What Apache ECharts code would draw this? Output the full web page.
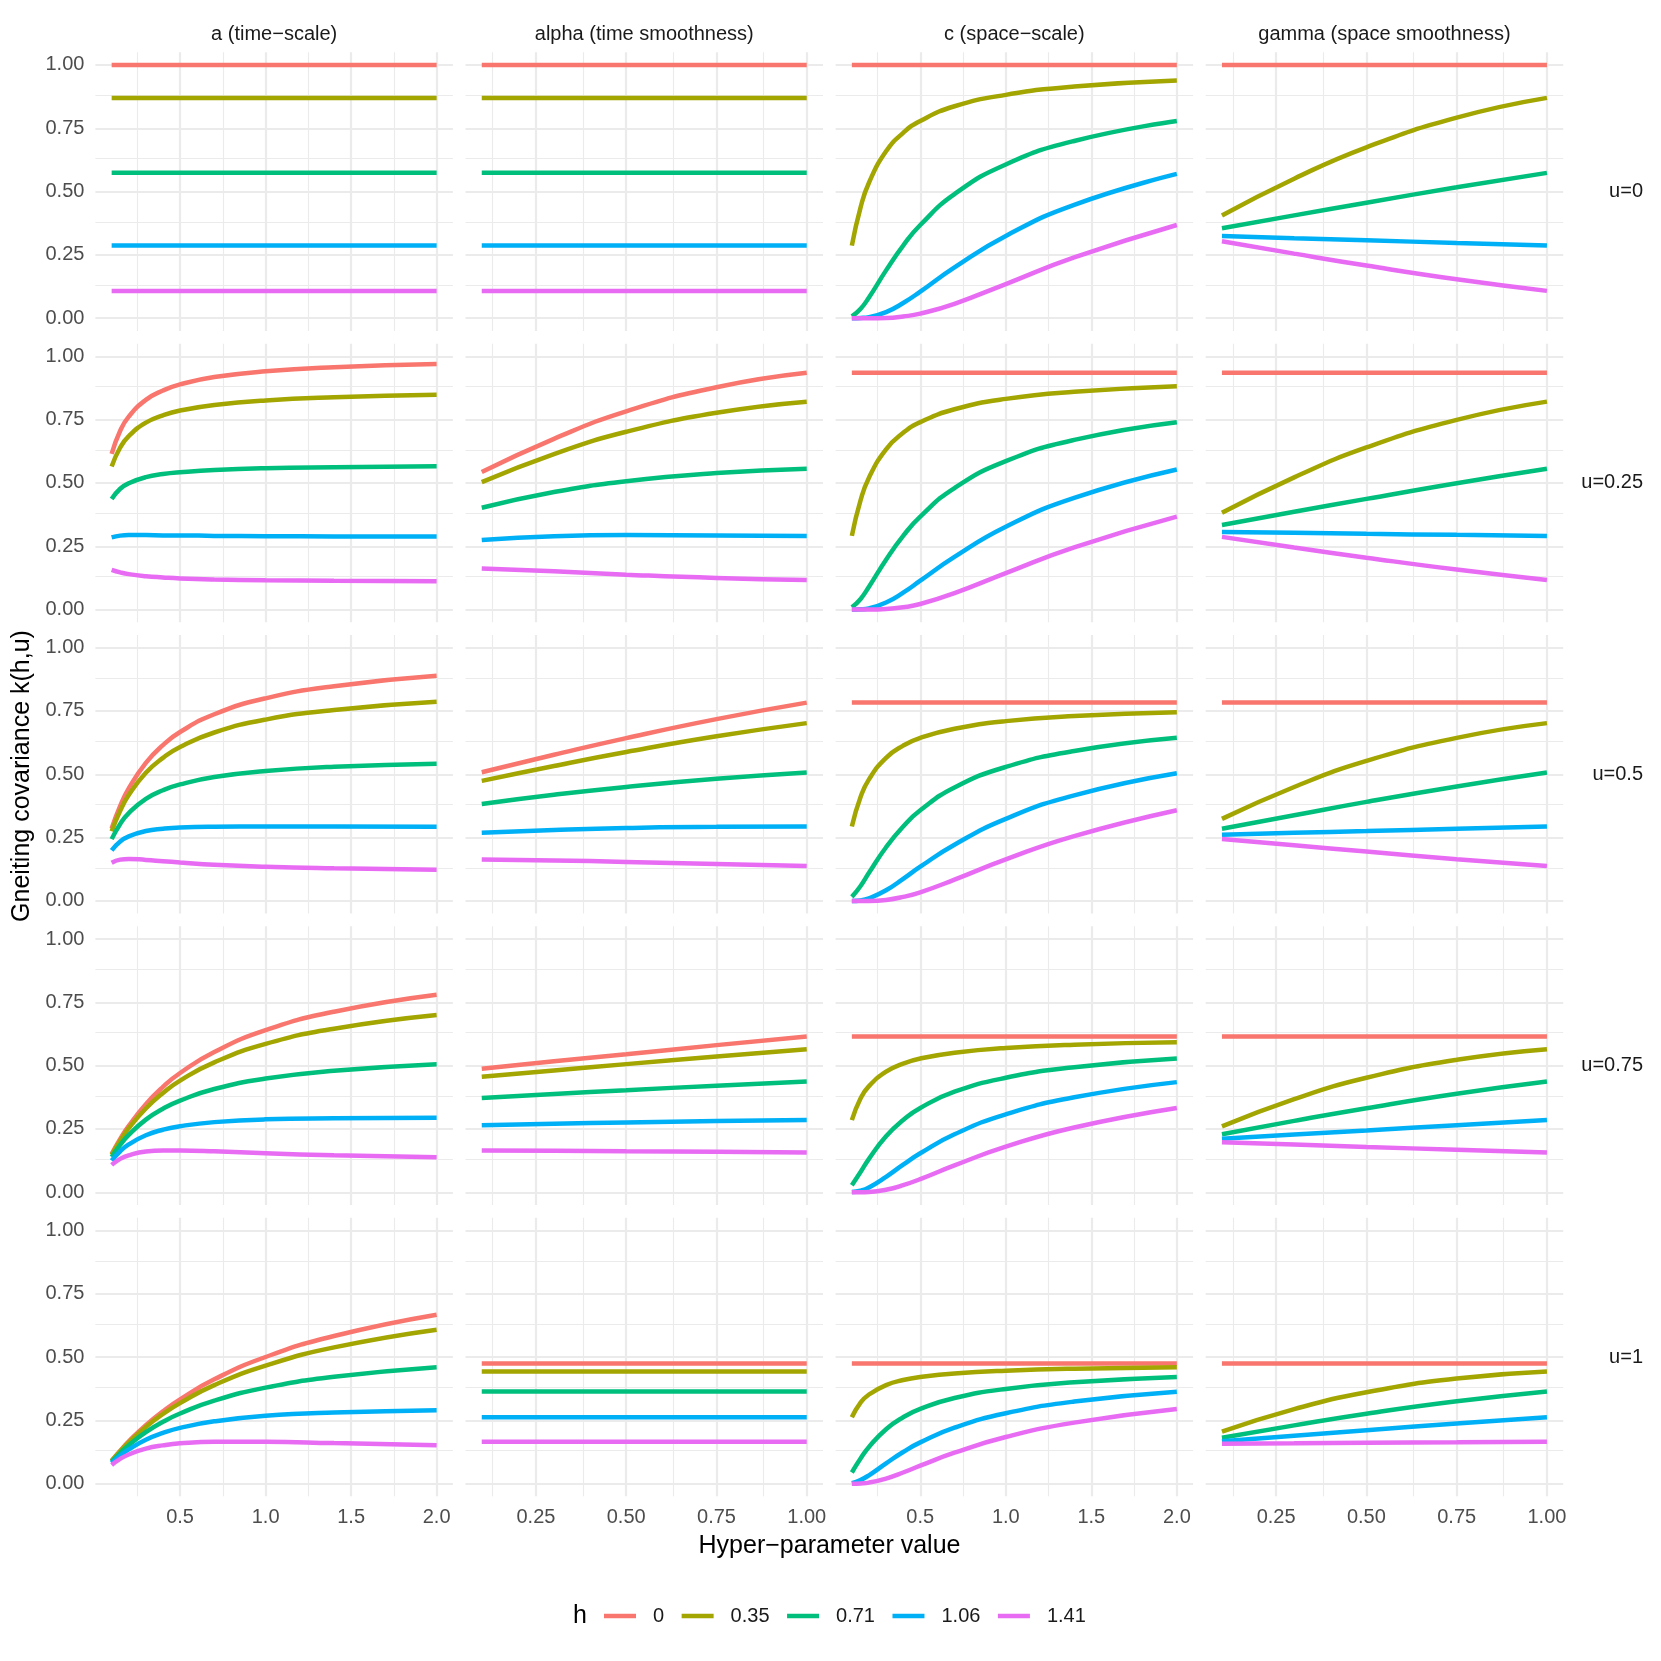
<!DOCTYPE html>
<html>
<head>
<meta charset="utf-8">
<title>Gneiting covariance</title>
<script src="https://cdn.jsdelivr.net/npm/echarts@6/dist/echarts.min.js"></script>
<style>
  html, body { margin: 0; background: #fff; }
  #chart { width: 1661px; height: 1661px; }
</style>
</head>
<body>
<div id="chart"></div>
<script>
  // legend levels and facet strips
  const hLevels = ['0', '0.35', '0.71', '1.06', '1.41']
  const colLabels = ['a (time\u2212scale)', 'alpha (time smoothness)', 'c (space\u2212scale)', 'gamma (space smoothness)']
  const rowLabels = ['u=0', 'u=0.25', 'u=0.5', 'u=0.75', 'u=1']

  // x positions the curves were read at
  const scaleX = [0.1, 0.15, 0.2, 0.3, 0.4, 0.5, 0.7, 1.0, 1.4, 2.0] // a, c
  const smoothX = [0.1, 0.3, 0.5, 0.75, 1.0] // alpha, gamma

  // tick labels
  const scaleTicks = [0.5, 1.0, 1.5, 2.0]
  const smoothTicks = [0.25, 0.5, 0.75, 1.0]
  const yTicks = [0, 0.25, 0.5, 0.75, 1.0]

  // readings per panel, one row per h level
  const aU0 = [
    [1, 1, 1, 1, 1, 1, 1, 1, 1, 1],
    [0.87, 0.87, 0.87, 0.87, 0.87, 0.87, 0.87, 0.87, 0.87, 0.87],
    [0.574, 0.574, 0.574, 0.574, 0.574, 0.574, 0.574, 0.574, 0.574, 0.574],
    [0.287, 0.287, 0.287, 0.287, 0.287, 0.287, 0.287, 0.287, 0.287, 0.287],
    [0.108, 0.108, 0.108, 0.108, 0.108, 0.108, 0.108, 0.108, 0.108, 0.108]
  ]
  const aU025 = [
    [0.615, 0.706, 0.762, 0.828, 0.865, 0.889, 0.918, 0.941, 0.957, 0.970],
    [0.565, 0.640, 0.685, 0.738, 0.767, 0.786, 0.808, 0.826, 0.838, 0.848],
    [0.437, 0.477, 0.499, 0.523, 0.535, 0.542, 0.551, 0.558, 0.562, 0.566],
    [0.285, 0.292, 0.294, 0.294, 0.293, 0.293, 0.291, 0.290, 0.289, 0.289],
    [0.157, 0.147, 0.140, 0.132, 0.127, 0.123, 0.119, 0.116, 0.114, 0.112]
  ]
  const aU05 = [
    [0.286, 0.375, 0.444, 0.545, 0.615, 0.667, 0.737, 0.800, 0.848, 0.889],
    [0.275, 0.356, 0.418, 0.506, 0.565, 0.608, 0.665, 0.716, 0.754, 0.786],
    [0.244, 0.304, 0.347, 0.403, 0.437, 0.460, 0.489, 0.513, 0.530, 0.542],
    [0.200, 0.235, 0.255, 0.276, 0.285, 0.290, 0.293, 0.294, 0.294, 0.293],
    [0.151, 0.163, 0.166, 0.162, 0.157, 0.152, 0.143, 0.135, 0.129, 0.123]
  ]
  const aU075 = [
    [0.151, 0.211, 0.262, 0.348, 0.416, 0.471, 0.554, 0.640, 0.713, 0.780],
    [0.148, 0.204, 0.253, 0.331, 0.392, 0.441, 0.513, 0.586, 0.646, 0.700],
    [0.139, 0.187, 0.227, 0.287, 0.330, 0.362, 0.408, 0.449, 0.480, 0.506],
    [0.125, 0.162, 0.189, 0.225, 0.247, 0.261, 0.277, 0.288, 0.292, 0.294],
    [0.108, 0.132, 0.146, 0.161, 0.165, 0.165, 0.162, 0.154, 0.146, 0.138]
  ]
  const aU1 = [
    [0.091, 0.130, 0.167, 0.231, 0.286, 0.333, 0.412, 0.500, 0.583, 0.667],
    [0.090, 0.128, 0.163, 0.224, 0.275, 0.318, 0.389, 0.466, 0.538, 0.608],
    [0.086, 0.121, 0.152, 0.203, 0.244, 0.277, 0.328, 0.379, 0.422, 0.460],
    [0.081, 0.111, 0.135, 0.173, 0.200, 0.220, 0.246, 0.268, 0.281, 0.290],
    [0.074, 0.098, 0.115, 0.138, 0.151, 0.159, 0.165, 0.165, 0.160, 0.152]
  ]

  const alphaU0 = [
    [1, 1, 1, 1, 1],
    [0.87, 0.87, 0.87, 0.87, 0.87],
    [0.574, 0.574, 0.574, 0.574, 0.574],
    [0.287, 0.287, 0.287, 0.287, 0.287],
    [0.108, 0.108, 0.108, 0.108, 0.108]
  ]
  const alphaU025 = [
    [0.543, 0.674, 0.783, 0.878, 0.935],
    [0.503, 0.614, 0.702, 0.777, 0.821],
    [0.402, 0.464, 0.507, 0.539, 0.556],
    [0.275, 0.290, 0.294, 0.293, 0.291],
    [0.162, 0.151, 0.138, 0.125, 0.117]
  ]
  const alphaU05 = [
    [0.508, 0.577, 0.643, 0.718, 0.783],
    [0.474, 0.533, 0.588, 0.650, 0.702],
    [0.383, 0.419, 0.450, 0.482, 0.507],
    [0.269, 0.280, 0.288, 0.293, 0.294],
    [0.164, 0.160, 0.154, 0.146, 0.138]
  ]
  const alphaU075 = [
    [0.488, 0.517, 0.545, 0.581, 0.615],
    [0.456, 0.481, 0.506, 0.536, 0.565],
    [0.372, 0.388, 0.403, 0.421, 0.437],
    [0.265, 0.271, 0.276, 0.281, 0.285],
    [0.165, 0.164, 0.162, 0.160, 0.157]
  ]
  const alphaU1 = [
    [0.474, 0.474, 0.474, 0.474, 0.474],
    [0.443, 0.443, 0.443, 0.443, 0.443],
    [0.364, 0.364, 0.364, 0.364, 0.364],
    [0.262, 0.262, 0.262, 0.262, 0.262],
    [0.165, 0.165, 0.165, 0.165, 0.165]
  ]

  const cU0 = [
    [1, 1, 1, 1, 1, 1, 1, 1, 1, 1],
    [0.287, 0.435, 0.535, 0.659, 0.732, 0.779, 0.837, 0.882, 0.915, 0.939],
    [0.007, 0.036, 0.082, 0.189, 0.287, 0.368, 0.490, 0.607, 0.700, 0.779],
    [0.000, 0.001, 0.004, 0.024, 0.060, 0.105, 0.201, 0.325, 0.448, 0.570],
    [0.000, 0.000, 0.000, 0.001, 0.007, 0.018, 0.057, 0.135, 0.240, 0.368]
  ]
  const cU025 = [
    [0.935, 0.935, 0.935, 0.935, 0.935, 0.935, 0.935, 0.935, 0.935, 0.935],
    [0.291, 0.429, 0.521, 0.633, 0.698, 0.740, 0.791, 0.832, 0.860, 0.882],
    [0.009, 0.041, 0.090, 0.197, 0.291, 0.367, 0.480, 0.586, 0.670, 0.740],
    [0.000, 0.001, 0.005, 0.028, 0.067, 0.114, 0.208, 0.327, 0.441, 0.553],
    [0.000, 0.000, 0.000, 0.002, 0.009, 0.022, 0.065, 0.144, 0.246, 0.367]
  ]
  const cU05 = [
    [0.783, 0.783, 0.783, 0.783, 0.783, 0.783, 0.783, 0.783, 0.783, 0.783],
    [0.294, 0.408, 0.480, 0.565, 0.613, 0.644, 0.680, 0.710, 0.730, 0.745],
    [0.016, 0.058, 0.111, 0.212, 0.294, 0.358, 0.448, 0.529, 0.592, 0.644],
    [0.000, 0.002, 0.010, 0.042, 0.087, 0.135, 0.222, 0.324, 0.417, 0.504],
    [0.000, 0.000, 0.000, 0.004, 0.016, 0.034, 0.084, 0.164, 0.256, 0.358]
  ]
  const cU075 = [
    [0.615, 0.615, 0.615, 0.615, 0.615, 0.615, 0.615, 0.615, 0.615, 0.615],
    [0.285, 0.369, 0.419, 0.476, 0.508, 0.528, 0.551, 0.570, 0.583, 0.592],
    [0.028, 0.079, 0.132, 0.221, 0.285, 0.333, 0.397, 0.452, 0.494, 0.528],
    [0.001, 0.006, 0.019, 0.061, 0.109, 0.154, 0.229, 0.308, 0.375, 0.435],
    [0.000, 0.000, 0.001, 0.010, 0.028, 0.052, 0.106, 0.180, 0.256, 0.333]
  ]
  const cU1 = [
    [0.474, 0.474, 0.474, 0.474, 0.474, 0.474, 0.474, 0.474, 0.474, 0.474],
    [0.262, 0.319, 0.352, 0.389, 0.409, 0.421, 0.435, 0.446, 0.454, 0.460],
    [0.044, 0.098, 0.145, 0.215, 0.262, 0.295, 0.338, 0.374, 0.400, 0.421],
    [0.002, 0.014, 0.033, 0.080, 0.125, 0.163, 0.221, 0.278, 0.324, 0.363],
    [0.000, 0.001, 0.004, 0.020, 0.044, 0.071, 0.122, 0.184, 0.241, 0.295]
  ]

  const gammaU0 = [
    [1, 1, 1, 1, 1],
    [0.406, 0.551, 0.675, 0.792, 0.870],
    [0.355, 0.406, 0.456, 0.517, 0.574],
    [0.325, 0.316, 0.308, 0.297, 0.287],
    [0.304, 0.255, 0.208, 0.154, 0.108]
  ]
  const gammaU025 = [
    [0.935, 0.935, 0.935, 0.935, 0.935],
    [0.382, 0.522, 0.640, 0.749, 0.821],
    [0.334, 0.386, 0.437, 0.499, 0.556],
    [0.306, 0.303, 0.299, 0.295, 0.291],
    [0.287, 0.245, 0.205, 0.158, 0.117]
  ]
  const gammaU05 = [
    [0.783, 0.783, 0.783, 0.783, 0.783],
    [0.324, 0.450, 0.553, 0.644, 0.702],
    [0.285, 0.338, 0.391, 0.452, 0.507],
    [0.261, 0.269, 0.276, 0.285, 0.294],
    [0.245, 0.220, 0.195, 0.165, 0.138]
  ]
  const gammaU075 = [
    [0.615, 0.615, 0.615, 0.615, 0.615],
    [0.260, 0.368, 0.452, 0.523, 0.565],
    [0.229, 0.282, 0.332, 0.389, 0.437],
    [0.211, 0.228, 0.244, 0.265, 0.285],
    [0.198, 0.189, 0.179, 0.168, 0.157]
  ]
  const gammaU1 = [
    [0.474, 0.474, 0.474, 0.474, 0.474],
    [0.205, 0.294, 0.361, 0.415, 0.443],
    [0.181, 0.230, 0.276, 0.325, 0.364],
    [0.167, 0.189, 0.211, 0.237, 0.262],
    [0.157, 0.159, 0.161, 0.163, 0.165]
  ]

  const panels = [
    [aU0, alphaU0, cU0, gammaU0],
    [aU025, alphaU025, cU025, gammaU025],
    [aU05, alphaU05, cU05, gammaU05],
    [aU075, alphaU075, cU075, gammaU075],
    [aU1, alphaU1, cU1, gammaU1]
  ]

  // ggplot-like look
  const colors = ['#F8766D', '#A3A500', '#00BF7D', '#00B0F6', '#E76BF3']
  const font = '"Liberation Sans", Arial, Helvetica, sans-serif'
  const gridColor = '#EBEBEB'
  const panelW = 357.5
  const panelH = 278.6
  const colLeft = [95.4, 465.5, 835.6, 1205.7]
  const rowTop = [52.3, 343.65, 635, 926.35, 1217.7]

  const grids = []
  const xAxes = []
  const yAxes = []
  const series = []

  for (let r = 0; r < 5; r++) {
    for (let c = 0; c < 4; c++) {
      const idx = r * 4 + c
      const wide = c === 0 || c === 2
      const xs = wide ? scaleX : smoothX
      const ticks = wide ? scaleTicks : smoothTicks
      const minor = wide ? [0.25, 0.75, 1.25, 1.75] : [0.125, 0.375, 0.625, 0.875]

      grids.push({ left: colLeft[c], top: rowTop[r], width: panelW, height: panelH })

      xAxes.push({
        gridIndex: idx,
        type: 'value',
        min: wide ? 0.005 : 0.055,
        max: wide ? 2.095 : 1.045,
        axisLine: { show: false },
        axisTick: { show: false },
        splitLine: { show: false },
        axisLabel: {
          show: r === 4,
          customValues: ticks,
          formatter: v => v.toFixed(wide ? 1 : 2),
          color: '#4D4D4D',
          fontSize: 20,
          fontFamily: font,
          margin: 11
        }
      })
      yAxes.push({
        gridIndex: idx,
        type: 'value',
        min: -0.05,
        max: 1.05,
        axisLine: { show: false },
        axisTick: { show: false },
        splitLine: { show: false },
        axisLabel: {
          show: c === 0,
          customValues: yTicks,
          formatter: v => v.toFixed(2),
          color: '#4D4D4D',
          fontSize: 20,
          fontFamily: font,
          margin: 11
        }
      })

      // panel grid lines, kept under the curves
      const lines = []
      ticks.forEach(v => lines.push({ xAxis: v, lineStyle: { width: 2.2 } }))
      minor.forEach(v => lines.push({ xAxis: v, lineStyle: { width: 1.1 } }))
      yTicks.forEach(v => lines.push({ yAxis: v, lineStyle: { width: 2.2 } }))
      ;[0.125, 0.375, 0.625, 0.875].forEach(v => lines.push({ yAxis: v, lineStyle: { width: 1.1 } }))
      series.push({
        type: 'line',
        xAxisIndex: idx,
        yAxisIndex: idx,
        data: [],
        z: 1,
        silent: true,
        markLine: {
          silent: true,
          z: 1,
          symbol: 'none',
          label: { show: false },
          emphasis: { disabled: true },
          lineStyle: { color: gridColor, type: 'solid' },
          animation: false,
          data: lines
        }
      })

      const vals = panels[r][c]
      hLevels.forEach((h, k) => {
        series.push({
          name: h,
          type: 'line',
          xAxisIndex: idx,
          yAxisIndex: idx,
          data: xs.map((x, i) => [x, vals[k][i]]),
          smooth: 0.5,
          showSymbol: false,
          symbol: 'none',
          silent: true,
          z: 10,
          itemStyle: { color: colors[k] },
          lineStyle: { color: colors[k], width: 4.5 }
        })
      })
    }
  }

  // strip texts and axis titles
  const graphics = []
  colLabels.forEach((t, c) => {
    graphics.push({
      type: 'text',
      x: colLeft[c] + panelW / 2,
      y: 34,
      style: { text: t, fontSize: 20, fontFamily: font, fill: '#1A1A1A', align: 'center', verticalAlign: 'middle' }
    })
  })
  rowLabels.forEach((t, r) => {
    graphics.push({
      type: 'text',
      x: 1643,
      y: rowTop[r] + panelH / 2,
      style: { text: t, fontSize: 20, fontFamily: font, fill: '#1A1A1A', align: 'right', verticalAlign: 'middle' }
    })
  })
  graphics.push({
    type: 'text',
    x: 22,
    y: 776,
    rotation: Math.PI / 2,
    style: { text: 'Gneiting covariance k(h,u)', fontSize: 25, fontFamily: font, fill: '#000', align: 'center', verticalAlign: 'middle' }
  })
  graphics.push({
    type: 'text',
    x: 829.5,
    y: 1546,
    style: { text: 'Hyper\u2212parameter value', fontSize: 25, fontFamily: font, fill: '#000', align: 'center', verticalAlign: 'middle' }
  })
  graphics.push({
    type: 'text',
    x: 573,
    y: 1616,
    style: { text: 'h', fontSize: 25, fontFamily: font, fill: '#000', align: 'left', verticalAlign: 'middle' }
  })

  const chart = echarts.init(document.getElementById('chart'))
  chart.setOption({
    animation: false,
    backgroundColor: '#fff',
    grid: grids,
    xAxis: xAxes,
    yAxis: yAxes,
    legend: {
      data: hLevels,
      left: 604,
      top: 1606,
      padding: 0,
      icon: 'rect',
      itemWidth: 32,
      itemHeight: 4.5,
      itemGap: 17.5,
      selectedMode: false,
      textStyle: { fontSize: 20, fontFamily: font, color: '#1A1A1A', padding: [0, 0, 0, 12] }
    },
    graphic: graphics,
    series: series
  })
</script>
</body>
</html>
